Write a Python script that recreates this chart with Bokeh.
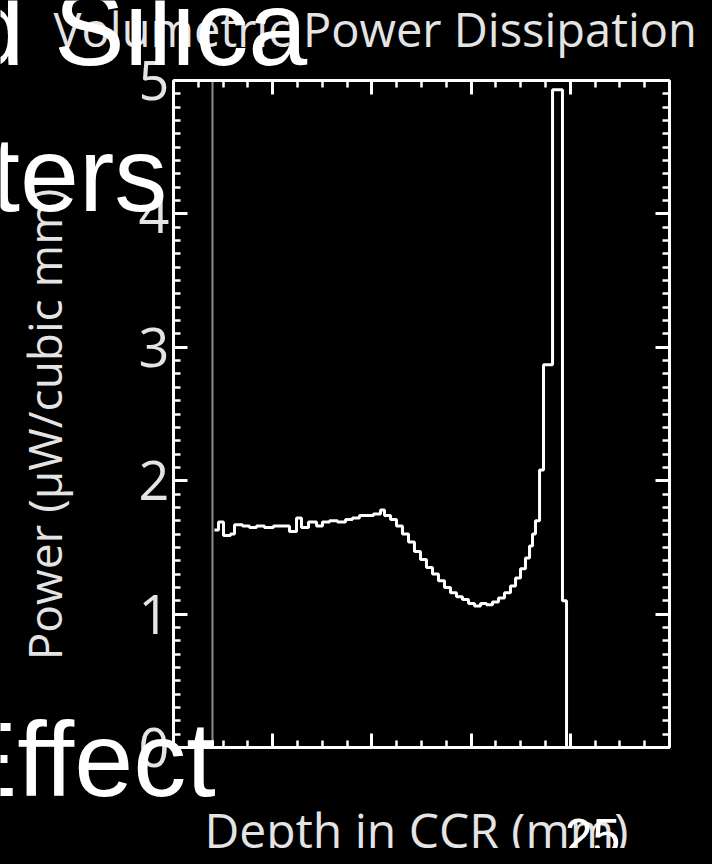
from bokeh.plotting import figure
from bokeh.models import (LinearAxis, SingleIntervalTicker, CustomJSTickFormatter, Label)
from bokeh.embed import file_html
from bokeh.resources import INLINE
import math

# ---------------- data ----------------
depth_mm = [0.413, 0.454, 0.504, 0.575, 0.615, 0.696, 0.766, 0.837, 0.917, 1.008,
            1.099, 1.169, 1.240, 1.290, 1.361, 1.442, 1.502, 1.573, 1.653, 1.734,
            1.804, 1.875, 1.946, 2.016, 2.087, 2.127, 2.188, 2.248, 2.308, 2.369,
            2.429, 2.490, 2.550, 2.611, 2.671, 2.732, 2.792, 2.853, 2.913, 2.974,
            3.034, 3.095, 3.155, 3.216, 3.276, 3.337, 3.397, 3.448, 3.498, 3.548,
            3.589, 3.619, 3.649, 3.690, 3.730, 3.821, 3.921, 3.962, 5.000]
power_uw = [1.63, 1.69, 1.59, 1.60, 1.67, 1.66, 1.65, 1.66, 1.65, 1.66,
            1.66, 1.62, 1.72, 1.65, 1.69, 1.66, 1.69, 1.70, 1.69, 1.71,
            1.72, 1.74, 1.74, 1.75, 1.78, 1.74, 1.71, 1.66, 1.60, 1.54,
            1.47, 1.41, 1.35, 1.30, 1.25, 1.20, 1.16, 1.13, 1.11, 1.08,
            1.06, 1.08, 1.07, 1.09, 1.12, 1.16, 1.21, 1.27, 1.34, 1.42,
            1.51, 1.60, 1.70, 2.08, 2.87, 4.93, 1.10, 0.00, 0.00]
surface_depth = 0.393
x_limits = (0, 5)
y_limits = (0, 5)

title_text = "Volumetric Power Dissipation"
x_label_text = "Depth in CCR (mm)"
y_label_text = "Power (\u03bcW/cubic mm)"
slide_text_1 = "d Silica"
slide_text_2 = "ters"
slide_text_3 = "Effect"
slide_number = "25"

# ---------------- layout ----------------
W, H = 696, 848
FL, FR, FT, FB = 173, 669, 80, 747   # chart box edges in canvas px
XPX = (FR - FL) / (x_limits[1] - x_limits[0])
YPX = (FB - FT) / (y_limits[1] - y_limits[0])
x_view = (x_limits[0] - FL / XPX, x_limits[1] + (W - FR) / XPX)
y_view = (y_limits[0] - (H - FB) / YPX, y_limits[1] + FT / YPX)

def dx(page_x):
    return x_limits[0] + (page_x - 8 - FL) / XPX

def dy(page_y):
    return y_limits[0] + (FB - (page_y - 8)) / YPX

p = figure(width=W, height=H, x_range=x_view, y_range=y_view,
           x_axis_type=None, y_axis_type=None,
           output_backend="svg", toolbar_location=None,
           min_border=0)
p.background_fill_color = "black"
p.border_fill_color = "black"
p.outline_line_color = None
p.xgrid.visible = False
p.ygrid.visible = False

CHART_TXT = "#e4e4e4"
blank = CustomJSTickFormatter(code="return '';")

def make_axis(interval, minors, loc, bounds, labels):
    ax = LinearAxis(ticker=SingleIntervalTicker(interval=interval, num_minor_ticks=minors),
                    fixed_location=loc, bounds=bounds)
    if not labels:
        ax.formatter = blank
    ax.axis_line_color = "white"
    ax.axis_line_width = 3
    ax.major_tick_line_color = "white"
    ax.major_tick_line_width = 3
    ax.minor_tick_line_color = "white"
    ax.minor_tick_line_width = 2.5
    ax.major_tick_in = 14
    ax.major_tick_out = 0
    ax.minor_tick_in = 7
    ax.minor_tick_out = 0
    return ax

xb = make_axis(1, 4, y_limits[0], x_limits, False)
xt = make_axis(1, 4, y_limits[1], x_limits, False)
yl = make_axis(1, 10, x_limits[0], y_limits, True)
yr = make_axis(1, 10, x_limits[1], y_limits, False)
yl.major_label_text_font = "Open Sans"
yl.major_label_text_font_size = "54px"
yl.major_label_text_color = CHART_TXT
yl.major_label_standoff = 4
p.add_layout(xb, "below")
p.add_layout(xt, "above")
p.add_layout(yl, "left")
p.add_layout(yr, "right")

# surface marker and the power profile
p.segment(x0=[surface_depth], y0=[y_limits[0]], x1=[surface_depth], y1=[y_limits[1]],
          line_color="#8c8c8c", line_width=2)
p.step(x=depth_mm, y=power_uw, mode="after", line_color="white", line_width=3)

def text_label(text, page_x, page_y, font, size_px, color, align="left",
               baseline="alphabetic", angle=0.0):
    # Bokeh draws the alphabetic baseline ~0.27em lower than asked; compensate
    shift = 0.27 * size_px if baseline == "alphabetic" else 0.0
    return Label(x=dx(page_x), y=dy(page_y - shift), text=text, text_font=font,
                 text_font_size=f"{size_px}px", text_color=color, text_align=align,
                 text_baseline=baseline, angle=angle)

# chart texts
p.add_layout(text_label(title_text, 61, 49, "Open Sans", 47, CHART_TXT))
p.add_layout(text_label(x_label_text, 212, 850, "Open Sans", 48, CHART_TXT))
p.add_layout(text_label(y_label_text, 51, 432, "Open Sans", 46, CHART_TXT,
                        align="center", baseline="middle", angle=math.pi / 2))

# slide texts overlaying the chart
p.add_layout(text_label(slide_text_1, -27, 64, "Liberation Sans", 106, "white"))
p.add_layout(text_label(slide_text_2, -2, 210, "Liberation Sans", 106, "white"))
p.add_layout(text_label(slide_text_3, -46, 795, "Liberation Sans", 106, "white"))
p.add_layout(text_label(slide_number, 600, 857, "Liberation Sans", 50, "white",
                        align="center"))

html = file_html(p, INLINE)
html = html.replace("<head>", "<head><style>html,body{background:#000;}</style>", 1)
open("out.html", "w").write(html)
